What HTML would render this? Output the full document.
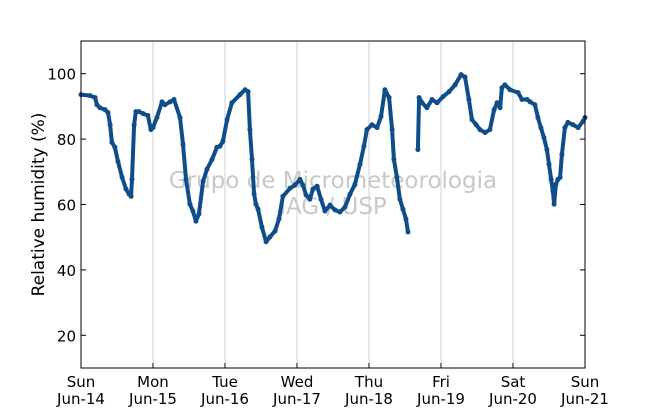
<!DOCTYPE html>
<html><head><meta charset="utf-8"><style>
html,body{margin:0;padding:0;background:#fff;}
svg{display:block;font-family:"DejaVu Sans","Liberation Sans",sans-serif;}
</style></head><body>
<svg id="chart" width="650" height="409">
<rect x="0" y="0" width="650" height="409" fill="#fff"/>
<g id="grid"></g>
<text x="333" y="188" font-size="23" fill="#c8c8c8" text-anchor="middle">Grupo de Micrometeorologia</text>
<text x="333" y="214" font-size="23" fill="#c8c8c8" text-anchor="middle">IAG / USP</text>
<g id="series"></g>
<rect x="81" y="41" width="504" height="327" fill="none" stroke="#000" stroke-width="1"/>
<g id="axes"></g>
<text transform="translate(44,204.5) rotate(-90)" font-size="17" text-anchor="middle" fill="#000">Relative humidity (%)</text>
</svg>
<script>
const hours=[0,3,4.7,5.3,6.3,8,9,9.7,10.3,11.3,12.3,13.7,15,16,16.7,17,17.7,18.3,19.3,20.7,22.3,23.3,24,25.3,27,28,29.7,31,33,34,35,36.3,37.3,38.3,39.3,40.7,42,43.7,45.3,46.3,47.3,48.7,50.3,53,54.7,55.7,56.3,57,57.7,58.3,59,60.3,61.7,63,64.7,66,67.3,69.7,71.3,73,74,75,76.3,77.3,78.7,80,81.3,83,84.7,86.3,88,89.7,91.3,93,94.3,95.3,97,98.7,100,101.3,102.7,103.7,104.3,105.3,106.3,107.3,108.3,109,112.3,112.7,113.7,115.3,117,118.7,120.7,122.7,124.7,126.7,128,129.3,130.3,131.7,133,134.7,136.3,137.7,138.7,139.7,140.3,141.3,143,145.7,147,148.7,149.7,151.3,152.3,153.3,154.3,155.3,156,156.7,157.3,157.7,158.3,159,159.7,160.3,161.3,162.3,164,165.7,167.3,168];
const rh=[93.6,93.3,92.7,90.5,89.6,89.0,88.1,84.4,79.0,77.5,73.2,68.3,64.7,63.2,62.5,67.7,84.4,88.4,88.4,87.8,87.2,82.9,83.5,86.6,91.4,90.5,91.4,92.1,86.6,78.4,67.7,60.1,58.0,54.9,57.1,67.1,70.8,73.8,77.5,77.8,79.3,86.0,91.1,93.6,95.1,94.5,82.9,73.8,63.2,60.1,58.6,53.1,48.6,50.1,51.9,55.6,62.5,65.0,65.9,67.7,65.9,62.9,61.6,64.7,65.6,61.6,58.0,59.8,58.3,57.7,59.2,63.2,66.2,72.3,77.8,82.9,84.4,83.5,86.9,95.1,92.7,82.9,73.8,68.3,61.6,58.6,55.6,51.6,76.8,92.7,91.1,89.6,92.1,91.1,93.0,94.5,96.6,99.7,99.0,92.1,86.0,84.4,82.9,82.0,82.9,89.0,91.1,89.6,95.7,96.6,95.1,94.2,92.1,92.1,91.4,90.5,86.6,83.5,80.5,76.8,72.3,67.7,64.1,60.1,66.2,67.7,68.3,75.3,83.5,85.1,84.4,83.5,85.4,86.6];
const breakAfterHour=[109];
const yTicks=[20,40,60,80,100];
const dayLabels=["Sun","Mon","Tue","Wed","Thu","Fri","Sat","Sun"];
const dateLabels=["Jun-14","Jun-15","Jun-16","Jun-17","Jun-18","Jun-19","Jun-20","Jun-21"];

const X0=81,X1=585,Y0=368,Y1=41,YMIN=10,YMAX=110,HMAX=168;
const xs=h=>X0+(h/HMAX)*(X1-X0);
const ys=v=>Y0-(v-YMIN)/(YMAX-YMIN)*(Y0-Y1);
const NS="http://www.w3.org/2000/svg";
const mk=(t,a)=>{const e=document.createElementNS(NS,t);for(const k in a)e.setAttribute(k,a[k]);return e;};
const grid=document.getElementById('grid'),axes=document.getElementById('axes'),series=document.getElementById('series');

dayLabels.forEach((d,i)=>{
  const x=xs(i*24);
  if(i>0&&i<dayLabels.length-1){
    const g=mk('line',{x1:x,x2:x,y1:Y1,y2:Y0,stroke:'#d0d0d0','stroke-width':1});
    
    
    grid.appendChild(g);
  }
  const t1=mk('line',{x1:x,x2:x,y1:Y0,y2:Y0-5,stroke:'#000'});
  
  
  axes.appendChild(t1);
  const l1=mk('text',{x:x,y:387,'font-size':15,'text-anchor':'middle'});
  l1.textContent=d;
  
  
  axes.appendChild(l1);
  const l2=mk('text',{x:x,y:404,'font-size':15,'text-anchor':'middle'});
  l2.textContent=dateLabels[i];
  
  
  axes.appendChild(l2);
});
yTicks.forEach(v=>{
  const y=ys(v);
  const t=mk('line',{x1:X0,x2:X0+5,y1:y,y2:y,stroke:'#000'});
  
  
  axes.appendChild(t);
  const t2=mk('line',{x1:X1,x2:X1-5,y1:y,y2:y,stroke:'#000'});
  
  
  axes.appendChild(t2);
  const l=mk('text',{x:X0-5,y:y+6,'font-size':15,'text-anchor':'end'});
  l.textContent=v;
  
  
  axes.appendChild(l);
});
let segs=[[]];
hours.forEach((h,i)=>{
  segs[segs.length-1].push([xs(h),ys(rh[i])]);
  if(breakAfterHour.includes(h))segs.push([]);
});
segs.forEach(s=>{
  const p=mk('polyline',{points:s.map(q=>q.join(',')).join(' '),fill:'none',stroke:'#0e4c8a','stroke-width':4,'stroke-linejoin':'round','stroke-linecap':'round'});
  
  
  series.appendChild(p);
});
hours.forEach((h,i)=>{
  const c=mk('circle',{cx:xs(h),cy:ys(rh[i]),r:2.5,fill:'#0e4c8a'});
  
  
  series.appendChild(c);
});
</script>
</body></html>
